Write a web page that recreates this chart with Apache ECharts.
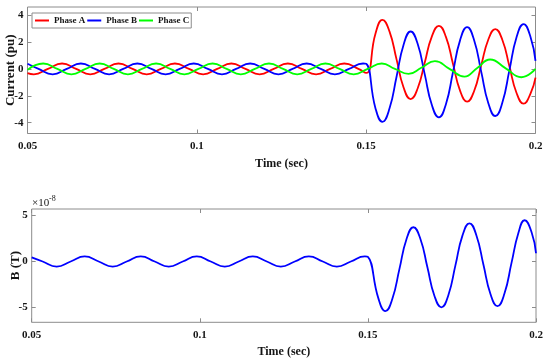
<!DOCTYPE html>
<html><head><meta charset="utf-8">
<script src="https://cdn.jsdelivr.net/npm/echarts@6/dist/echarts.min.js"></script>
<style>html,body{margin:0;padding:0;background:#fff}#c{width:550px;height:364px}</style>
</head><body><div id="c"></div>
<script>
const timeTicks = [0.05, 0.1, 0.15, 0.2];
const currentTicks = [-4, -2, 0, 2, 4];
const bTicks = [-5, 0, 5];
const legendNames = ['Phase A', 'Phase B', 'Phase C'];

// [time (s), current (pu)]
const phaseA = [[0.05,-0.31],[0.05187,-0.4],[0.05603,0],[0.0602,0.4],[0.06437,0],[0.06853,-0.4],[0.0727,0],[0.07687,0.4],[0.08103,0],[0.0852,-0.4],[0.08937,0],[0.09353,0.4],[0.0977,0],[0.10187,-0.4],[0.10603,0],[0.1102,0.4],[0.11437,0],[0.11853,-0.4],[0.1227,0],[0.12687,0.4],[0.13103,0],[0.1352,-0.4],[0.13937,0],[0.14353,0.4],[0.1477,0],[0.15,-0.3],[0.15272,2.6],[0.1548,3.65],[0.15688,2.79],[0.15897,0.71],[0.16105,-1.38],[0.16313,-2.24],[0.16522,-1.44],[0.1673,0.48],[0.16938,2.4],[0.17147,3.2],[0.17355,2.38],[0.17563,0.39],[0.17772,-1.61],[0.1798,-2.43],[0.18188,-1.64],[0.18397,0.27],[0.18605,2.17],[0.18813,2.96],[0.19022,2.15],[0.1923,0.19],[0.19438,-1.77],[0.19647,-2.58],[0.19855,-1.82],[0.2,-0.65]];
const phaseB = [[0.05,0.38],[0.05326,0],[0.05743,-0.4],[0.06159,0],[0.06576,0.4],[0.06993,0],[0.07409,-0.4],[0.07826,0],[0.08243,0.4],[0.08659,0],[0.09076,-0.4],[0.09493,0],[0.09909,0.4],[0.10326,0],[0.10743,-0.4],[0.11159,0],[0.11576,0.4],[0.11993,0],[0.12409,-0.4],[0.12826,0],[0.13243,0.4],[0.13659,0],[0.14076,-0.4],[0.14493,0],[0.14909,0.4],[0.15,0.38],[0.15272,-2.9],[0.1548,-3.93],[0.15688,-2.95],[0.15897,-0.58],[0.16105,1.8],[0.16313,2.78],[0.16522,1.85],[0.1673,-0.41],[0.16938,-2.67],[0.17147,-3.6],[0.17355,-2.62],[0.17563,-0.25],[0.17772,2.12],[0.1798,3.1],[0.18188,2.13],[0.18397,-0.2],[0.18605,-2.53],[0.18813,-3.5],[0.19022,-2.5],[0.1923,-0.09],[0.19438,2.33],[0.19647,3.33],[0.19855,2.35],[0.2,0.6]];
const phaseC = [[0.05,-0.07],[0.05464,0.4],[0.05881,0],[0.06297,-0.4],[0.06714,0],[0.07131,0.4],[0.07547,0],[0.07964,-0.4],[0.08381,0],[0.08797,0.4],[0.09214,0],[0.09631,-0.4],[0.10047,0],[0.10464,0.4],[0.10881,0],[0.11297,-0.4],[0.11714,0],[0.12131,0.4],[0.12547,0],[0.12964,-0.4],[0.13381,0],[0.13797,0.4],[0.14214,0],[0.14631,-0.4],[0.15047,0],[0.1546,0.4],[0.1585,0],[0.1625,-0.37],[0.1664,0.1],[0.1703,0.58],[0.1746,0],[0.179,-0.57],[0.1828,0.07],[0.1866,0.7],[0.1912,0.04],[0.1958,-0.62],[0.2,0]];
// [time (s), B (x1e-8 T)]
const bField = [[0.05,0.45],[0.05326,0],[0.05743,-0.55],[0.06159,0],[0.06576,0.55],[0.06993,0],[0.07409,-0.55],[0.07826,0],[0.08243,0.55],[0.08659,0],[0.09076,-0.55],[0.09493,0],[0.09909,0.55],[0.10326,0],[0.10743,-0.55],[0.11159,0],[0.11576,0.55],[0.11993,0],[0.12409,-0.55],[0.12826,0],[0.13243,0.55],[0.13659,0],[0.14076,-0.55],[0.14493,0],[0.14909,0.55],[0.15,0.5],[0.15312,-4.0],[0.1552,-5.38],[0.15728,-4.05],[0.15937,-0.83],[0.16145,2.39],[0.16353,3.72],[0.16562,2.45],[0.1677,-0.63],[0.16978,-3.71],[0.17187,-4.98],[0.17395,-3.64],[0.17603,-0.42],[0.17812,2.81],[0.1802,4.15],[0.18228,2.83],[0.18437,-0.35],[0.18645,-3.52],[0.18853,-4.84],[0.19062,-3.48],[0.1927,-0.18],[0.19478,3.12],[0.1966,4.48],[0.19875,3.1],[0.2,0.9]];

const serif = '"Liberation Serif","Times New Roman",serif';
const boxColor = '#8c8c8c';
const textColor = '#151515';

function xAxisDef(grid, pos, ticks) {
  const bottom = pos === 'bottom';
  return {
    gridIndex: grid, type: 'value', min: 0.05, max: 0.2, position: pos,
    name: bottom ? 'Time (sec)' : '', nameLocation: 'middle', nameGap: 24, nameMoveOverlap: false,
    nameTextStyle: {fontFamily: serif, fontWeight: 'bold', fontSize: 12, color: textColor},
    axisLine: {show: false, onZero: false},
    axisTick: {show: true, inside: true, length: 4, customValues: ticks, lineStyle: {color: boxColor}},
    axisLabel: {show: bottom, customValues: ticks, formatter: v => String(v), margin: 7,
      fontFamily: serif, fontWeight: 'bold', fontSize: 11, color: textColor},
    splitLine: {show: false}
  };
}
function yAxisDef(grid, pos, min, max, ticks, name, gap) {
  const left = pos === 'left';
  return {
    gridIndex: grid, type: 'value', min: min, max: max, position: pos,
    name: left ? name : '', nameLocation: 'middle', nameGap: gap, nameRotate: 90, nameMoveOverlap: false,
    nameTextStyle: {fontFamily: serif, fontWeight: 'bold', fontSize: 13, color: textColor},
    axisLine: {show: false, onZero: false},
    axisTick: {show: true, inside: true, length: 4, customValues: ticks, lineStyle: {color: boxColor}},
    axisLabel: {show: left, customValues: ticks, formatter: v => String(v), margin: 4,
      fontFamily: serif, fontWeight: 'bold', fontSize: 11, color: textColor},
    splitLine: {show: false}
  };
}
function lineSeries(name, data, color, xi, yi) {
  return {
    type: 'line', name: name, data: data, xAxisIndex: xi, yAxisIndex: yi,
    showSymbol: false, symbol: 'none', smooth: 0.5,
    lineStyle: {width: 1.8, color: color}, itemStyle: {color: color}
  };
}

const chart = echarts.init(document.getElementById('c'), null, {renderer: 'canvas'});
chart.setOption({
  animation: false,
  backgroundColor: '#ffffff',
  grid: [
    {left: 27.5, top: 7, width: 508, height: 126.5, show: true, borderColor: boxColor, borderWidth: 1, backgroundColor: '#fff', containLabel: false, outerBoundsMode: 'none'},
    {left: 31.7, top: 209, width: 504.3, height: 113.3, show: true, borderColor: boxColor, borderWidth: 1, backgroundColor: '#fff', containLabel: false, outerBoundsMode: 'none'}
  ],
  xAxis: [
    xAxisDef(0, 'bottom', timeTicks), xAxisDef(0, 'top', timeTicks),
    xAxisDef(1, 'bottom', timeTicks), xAxisDef(1, 'top', timeTicks)
  ],
  yAxis: [
    yAxisDef(0, 'left', -4.8, 4.6, currentTicks, 'Current (pu)', 10),
    yAxisDef(0, 'right', -4.8, 4.6, currentTicks, '', 10),
    yAxisDef(1, 'left', -6.6, 5.7, bTicks, 'B (T)', 10),
    yAxisDef(1, 'right', -6.6, 5.7, bTicks, '', 10)
  ],
  legend: {
    data: legendNames, left: 32, top: 13, orient: 'horizontal',
    icon: 'rect', itemWidth: 14, itemHeight: 2, itemGap: 2,
    padding: [3, 2, 3, 3], borderColor: boxColor, borderWidth: 1, backgroundColor: '#fff',
    textStyle: {fontFamily: serif, fontWeight: 'bold', fontSize: 9, color: textColor}
  },
  graphic: [
    {type: 'text', left: 32, top: 198, style: {text: '×10', font: '11px "Liberation Serif"', fill: textColor}},
    {type: 'text', left: 49, top: 194.5, style: {text: '-8', font: '8px "Liberation Serif"', fill: textColor}}
  ],
  series: [
    lineSeries('Phase A', phaseA, '#ff0000', 0, 0),
    lineSeries('Phase B', phaseB, '#0000ff', 0, 0),
    lineSeries('Phase C', phaseC, '#00ff00', 0, 0),
    lineSeries('B', bField, '#0000ff', 2, 2)
  ]
});
</script></body></html>
